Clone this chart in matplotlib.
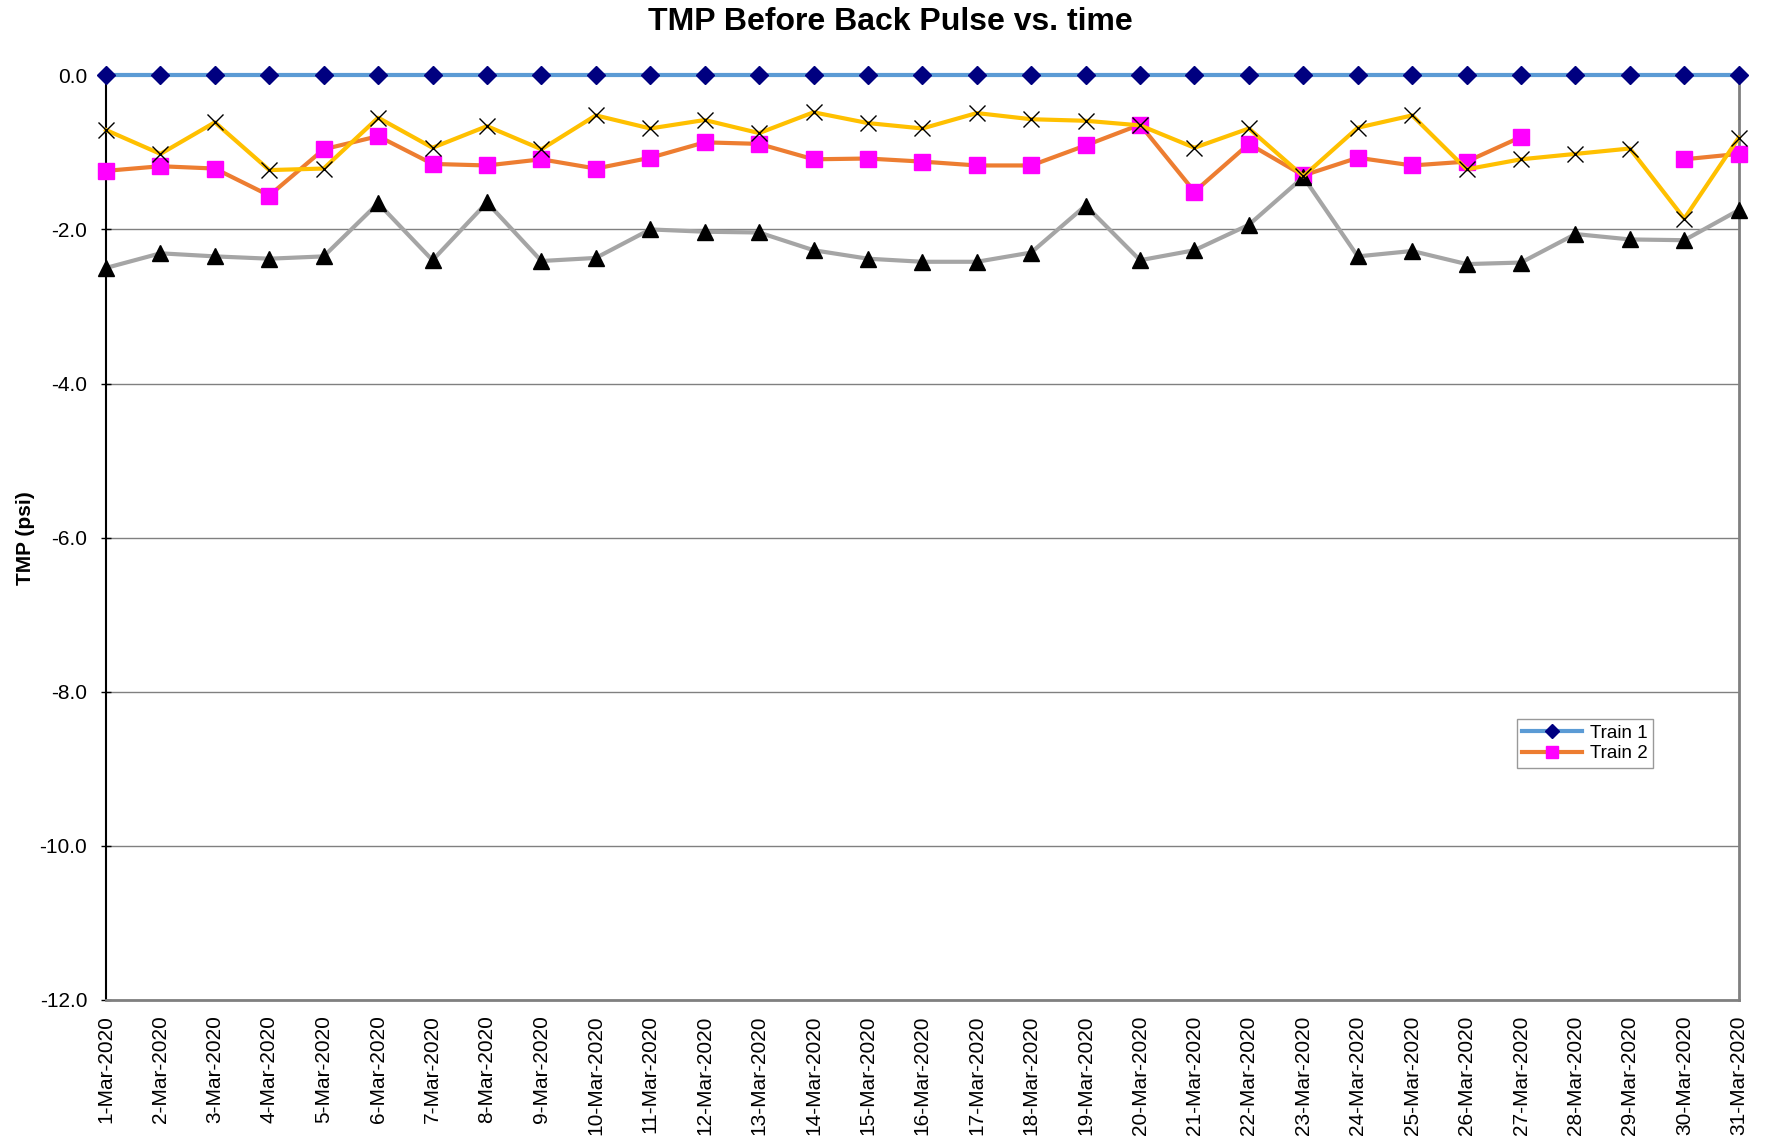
import numpy as np
from matplotlib import pyplot as plt

plt.rcParams['font.family'] = ['Liberation Sans', 'DejaVu Sans']
plt.rcParams['axes.unicode_minus'] = False

days = list(range(1, 32))
date_labels = [f'{d}-Mar-2020' for d in days]

train1 = [0.0] * 31
train2 = [-1.24, -1.18, -1.21, -1.56, -0.96, -0.79, -1.15, -1.17, -1.09, -1.21,
          -1.07, -0.87, -0.89, -1.09, -1.08, -1.12, -1.17, -1.17, -0.91, -0.64,
          -1.51, -0.89, -1.30, -1.07, -1.17, -1.12, -0.80, np.nan, np.nan, -1.09,
          -1.02]
train3 = [-2.50, -2.31, -2.35, -2.38, -2.35, -1.66, -2.40, -1.65, -2.41, -2.37,
          -2.00, -2.03, -2.04, -2.27, -2.38, -2.42, -2.42, -2.30, -1.69, -2.40,
          -2.27, -1.94, -1.32, -2.35, -2.28, -2.45, -2.43, -2.06, -2.13, -2.14,
          -1.75]
train4 = [-0.71, -1.02, -0.61, -1.23, -1.21, -0.55, -0.94, -0.66, -0.96, -0.52,
          -0.69, -0.58, -0.75, -0.48, -0.62, -0.69, -0.49, -0.57, -0.59, -0.65,
          -0.94, -0.69, -1.31, -0.68, -0.52, -1.22, -1.09, -1.02, -0.95, -1.86,
          -0.81]

fig = plt.figure(figsize=(17.67, 11.41), dpi=100)
ax = fig.add_axes([0.06, 0.1236, 0.924, 0.8104])

ax.plot(days, train1, color='#5b9bd5', lw=3, marker='D', ms=9,
        mfc='#000080', mec='#000080', label='Train 1', zorder=3, clip_on=False)
ax.plot(days, train2, color='#ed7d31', lw=3, marker='s', ms=11,
        mfc='#ff00ff', mec='#ff00ff', label='Train 2', zorder=3, clip_on=False)
ax.plot(days, train3, color='#a5a5a5', lw=3, marker='^', ms=12,
        mfc='black', mec='black', label='_nolegend_', zorder=3, clip_on=False)
ax.plot(days, train4, color='#ffc000', lw=3, marker='x', ms=11, mew=1,
        mec='black', label='_nolegend_', zorder=3, clip_on=False)

ax.set_xlim(1, 31)
ax.set_ylim(-12, 0)
ax.set_yticks(np.arange(-12, 0.1, 2))
ax.set_yticklabels([f'{v:.1f}' for v in np.arange(-12, 0.1, 2)])
ax.set_xticks(days)
ax.set_xticklabels(date_labels, rotation=90)
ax.tick_params(axis='y', labelsize=15, direction='inout', length=7, width=1,
               pad=10)
ax.tick_params(axis='x', labelsize=15, length=0, pad=11)
ax.grid(axis='y', color='#808080', lw=1)
ax.set_axisbelow(True)

ax.spines['top'].set_visible(False)
ax.spines['left'].set_color('black')
ax.spines['left'].set_linewidth(1.5)
ax.spines['bottom'].set_color('#808080')
ax.spines['bottom'].set_linewidth(2)
ax.spines['right'].set_color('#808080')
ax.spines['right'].set_linewidth(2)

fig.text(0.504, 0.994, 'TMP Before Back Pulse vs. time', fontsize=23,
         fontweight='bold', ha='center', va='top')
ax.set_ylabel('TMP (psi)', fontsize=15, fontweight='bold', labelpad=3)

leg = ax.legend(loc='upper left', bbox_to_anchor=(0.864, 0.304), fontsize=13.5,
                frameon=True, fancybox=False, edgecolor='#808080',
                handlelength=3.2, borderpad=0.3, labelspacing=0.2,
                borderaxespad=0, markerscale=0.75, handletextpad=0.4)
leg.get_frame().set_linewidth(1)

fig.savefig('out.png', dpi=100)
